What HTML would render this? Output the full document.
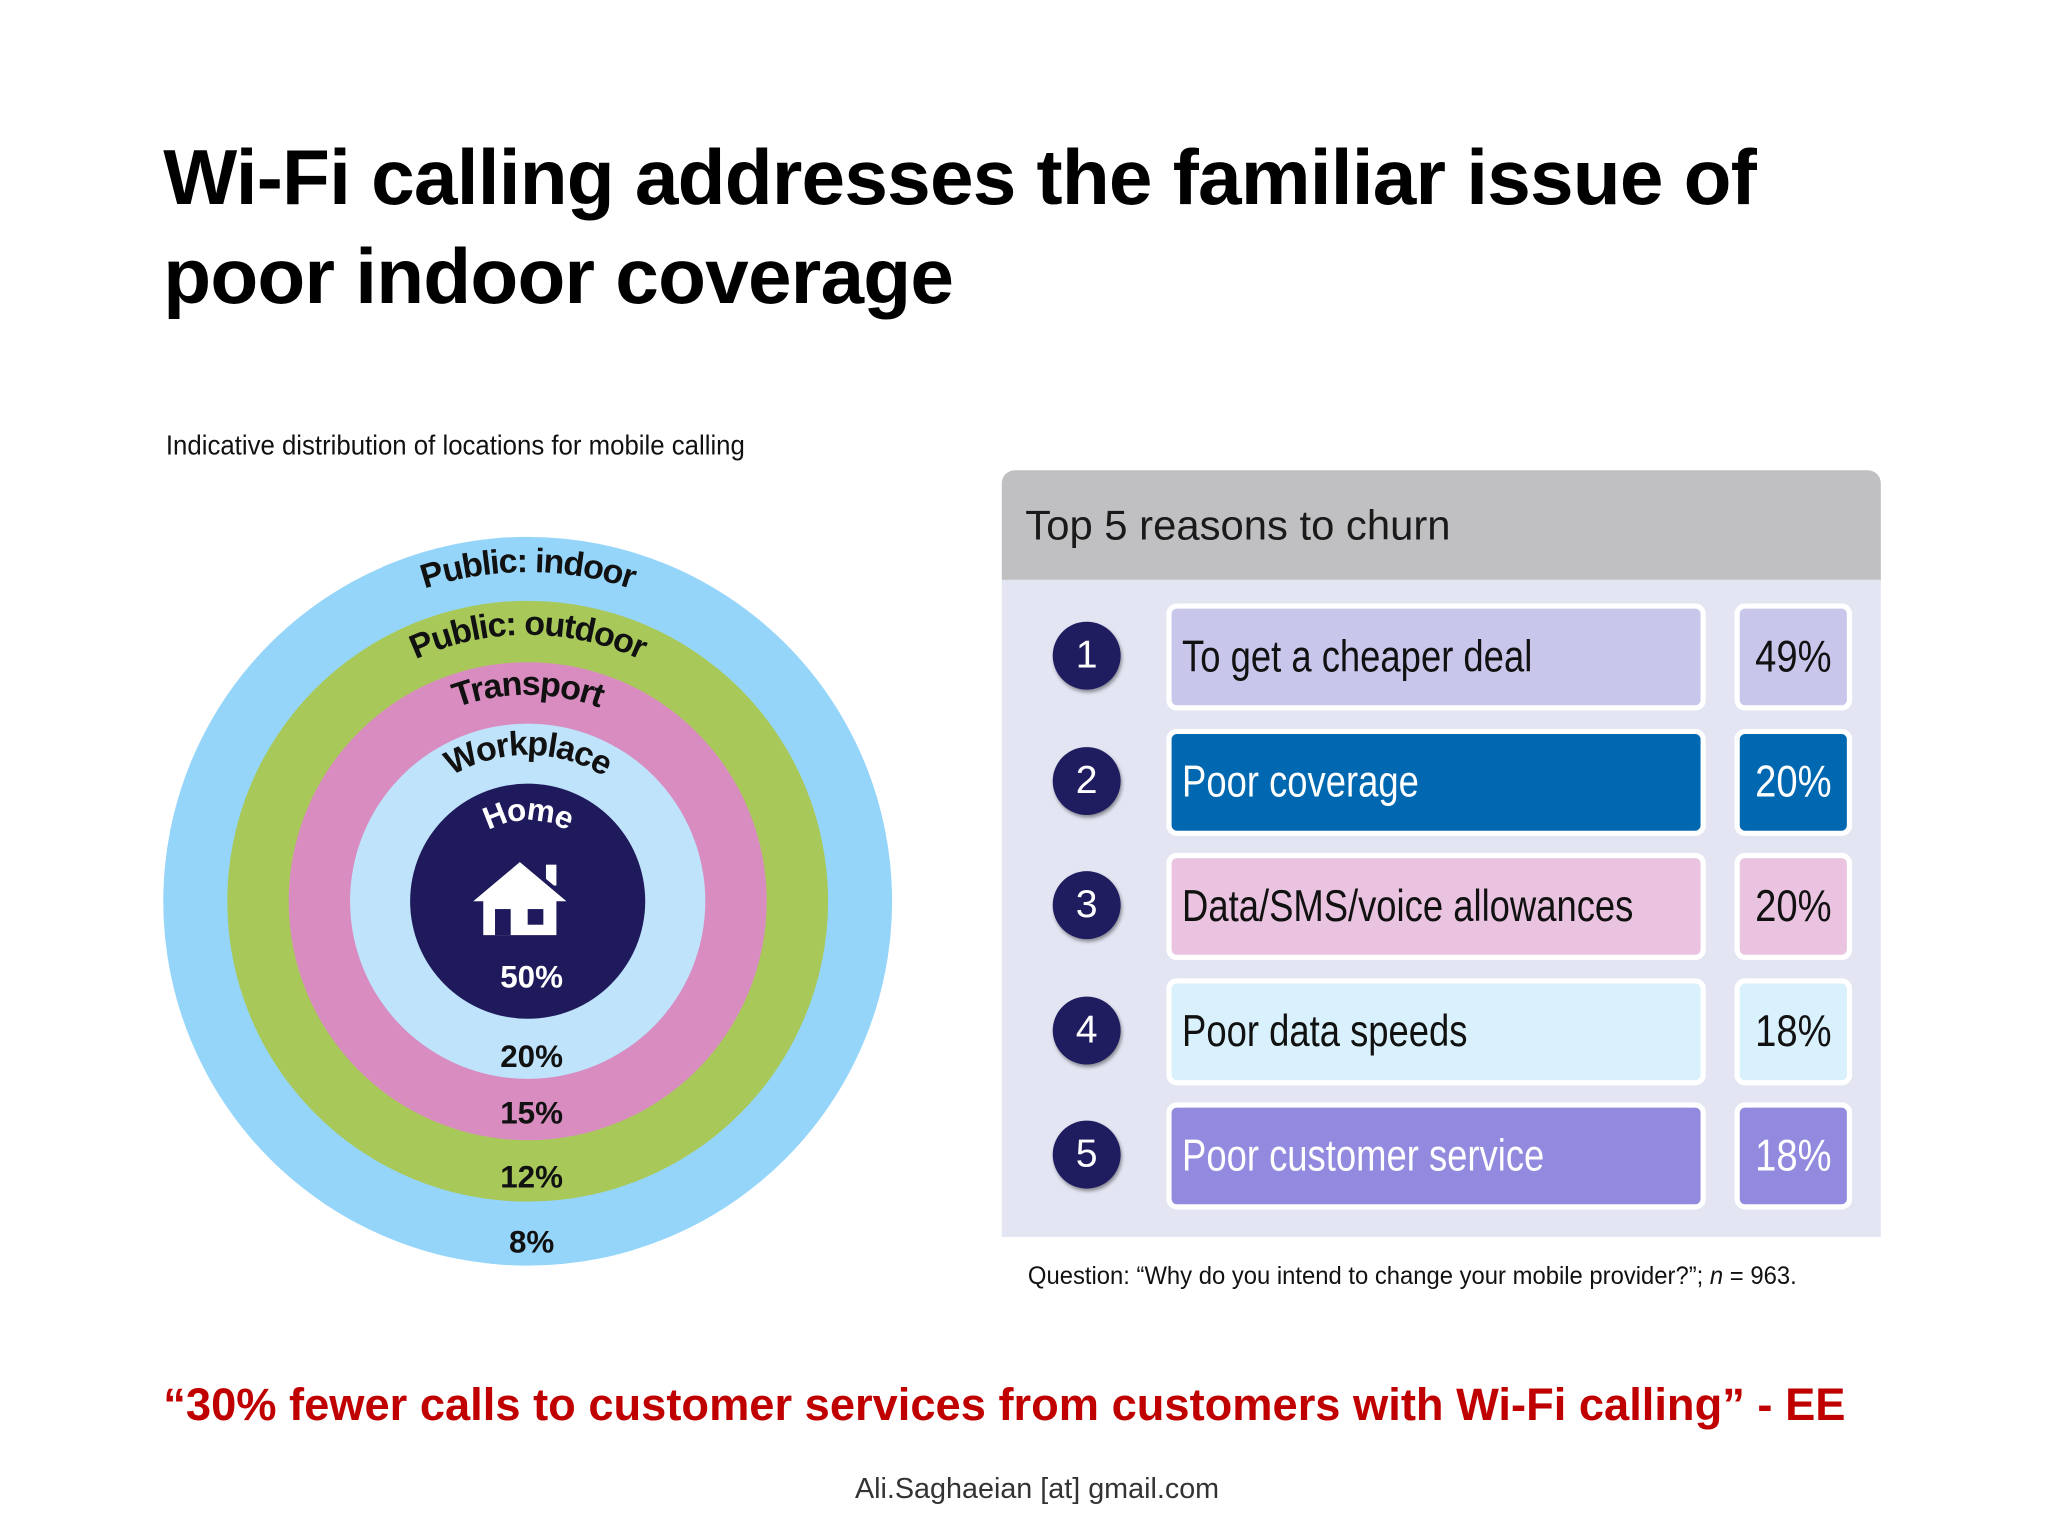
<!DOCTYPE html>
<html><head><meta charset="utf-8">
<style>
html,body{margin:0;padding:0;background:#fff;}
#stage{width:2048px;height:1536px;overflow:hidden;position:relative;}
#page{width:1568px;height:1176px;position:absolute;left:0;top:0;transform:scale(1.30612);transform-origin:0 0;font-family:"Liberation Sans",sans-serif;}
.abs{position:absolute;}
.sq{display:inline-block;transform:scaleX(0.84);transform-origin:0 50%;white-space:nowrap;}
</style></head><body>
<div id="stage"><div id="page">
<div class="abs" style="left:125px;top:98px;font-size:60px;letter-spacing:-0.6px;font-weight:bold;line-height:76px;color:#000;">Wi-Fi calling addresses the familiar issue of<br>poor indoor coverage</div>
<div class="abs" style="left:127px;top:330px;font-size:21px;color:#111;"><span class="sq" style="transform:scaleX(0.94)">Indicative distribution of locations for mobile calling</span></div>
<svg class="abs" id="rings" style="left:0;top:0" width="760" height="1000"></svg>
<div class="abs" style="left:767px;top:360px;width:673px;height:84px;background:#c0bfc1;border-radius:10px 10px 0 0;"><span style="position:absolute;left:18px;top:24px;font-size:32px;color:#1a1a1a;">Top 5 reasons to churn</span></div>
<div class="abs" id="churn" style="left:767px;top:444px;width:673px;height:503px;background:#e3e5f3;"></div>
<div class="abs" style="left:787px;top:967px;font-size:19px;color:#111;"><span class="sq" style="transform:scaleX(0.96)">Question: “Why do you intend to change your mobile provider?”; <i>n</i> = 963.</span></div>
<div class="abs" style="left:125px;top:1056px;font-size:35px;font-weight:bold;color:#c00000;"><span class="sq" style="transform:scaleX(0.99)">“30% fewer calls to customer services from customers with Wi-Fi calling” - EE</span></div>
<div class="abs" style="left:0;width:1588px;text-align:center;top:1127px;font-size:22px;color:#333;">Ali.Saghaeian [at] gmail.com</div>
</div></div>
<script>
const ringLabels=["Public: indoor","Public: outdoor","Transport","Workplace","Home"];
const ringValues=[8,12,15,20,50];
const ringColors=["#95d5fa","#a8c95a","#d88cc0","#bfe3fb","#1e1a5c"];
const reasons=["To get a cheaper deal","Poor coverage","Data/SMS/voice allowances","Poor data speeds","Poor customer service"];
const reasonValues=[49,20,20,18,18];
const NS="http://www.w3.org/2000/svg";
const svg=document.getElementById('rings');
const cx=404,cy=690,radii=[279,230,183,136,90];
const labelR=[252,204,158,112,62];
const pctY=[950,900,851,808,747];
radii.forEach((r,i)=>{
 const c=document.createElementNS(NS,'circle');
 c.setAttribute('cx',cx);c.setAttribute('cy',cy);c.setAttribute('r',r);c.setAttribute('fill',ringColors[i]);
 
 
 svg.appendChild(c);
 const lr=labelR[i];
 const p=document.createElementNS(NS,'path');
 p.setAttribute('id','arc'+i);p.setAttribute('fill','none');
 p.setAttribute('d',`M ${cx-lr} ${cy} A ${lr} ${lr} 0 0 1 ${cx+lr} ${cy}`);
 svg.appendChild(p);
 const t=document.createElementNS(NS,'text');
 
 
 t.setAttribute('font-family','Liberation Sans, sans-serif');
 t.setAttribute('font-weight','bold');t.setAttribute('font-size',i==4?24:26);
 t.setAttribute('letter-spacing','-1');
 t.setAttribute('fill',i==4?'#fff':'#111');t.setAttribute('text-anchor','middle');
 const tp=document.createElementNS(NS,'textPath');
 tp.setAttribute('href','#arc'+i);tp.setAttribute('startOffset','50%');
 tp.textContent=ringLabels[i];t.appendChild(tp);svg.appendChild(t);
 const v=document.createElementNS(NS,'text');
 
 
 v.setAttribute('x',cx+3);v.setAttribute('y',pctY[i]+9);v.setAttribute('text-anchor','middle');
 v.setAttribute('font-size',24);v.setAttribute('font-weight','bold');v.setAttribute('font-family','Liberation Sans, sans-serif');
 v.setAttribute('fill',i==4?'#fff':'#111');v.textContent=ringValues[i]+'%';svg.appendChild(v);
});
const h=document.createElementNS(NS,'g');


h.innerHTML='<path d="M362 690 L398 660 L434 690 L426 690 L426 716 L370 716 L370 690 Z" fill="#fff"/><rect x="418" y="662" width="8" height="16" fill="#fff"/><path d="M360 690 L398 658 L436 690" stroke="#1e1a5c" stroke-width="3" fill="none"/><rect x="379" y="696" width="12" height="20" fill="#1e1a5c"/><rect x="404" y="696" width="12" height="12" fill="#1e1a5c"/>';
svg.appendChild(h);
const tbl=document.getElementById('churn');
const bg=["#c9c6ec","#0068b0","#e9c3df","#d9f1fc","#918ade"];
const fg=["#111","#fff","#111","#111","#fff"];
reasons.forEach((r,i)=>{
 const top=18+i*95.5;
 const n=document.createElement('div');
 
 
 n.style.cssText=`position:absolute;left:39px;top:${top+14}px;width:52px;height:52px;border-radius:50%;background:#1f1c5f;color:#fff;font-size:30px;text-align:center;line-height:52px;box-shadow:1px 2px 3px rgba(0,0,0,.4);`;
 n.textContent=i+1;tbl.appendChild(n);
 const b=document.createElement('div');
 
 
 b.style.cssText=`position:absolute;left:126px;top:${top}px;height:74px;border:4px solid #fff;border-radius:8px;background:${bg[i]};color:${fg[i]};font-size:34px;line-height:74px;padding-left:8px;width:397px;overflow:hidden;`;
 b.innerHTML='<span class="sq" style="transform:scaleX(0.82)">'+r+'</span>';tbl.appendChild(b);
 const p=document.createElement('div');
 
 
 p.style.cssText=`position:absolute;left:561px;top:${top}px;width:82px;height:74px;border:4px solid #fff;border-radius:8px;background:${bg[i]};color:${fg[i]};font-size:34px;line-height:74px;text-align:center;`;
 p.innerHTML='<span style="display:inline-block;transform:scaleX(0.86)">'+reasonValues[i]+'%</span>';tbl.appendChild(p);
});
</script>
</body></html>
